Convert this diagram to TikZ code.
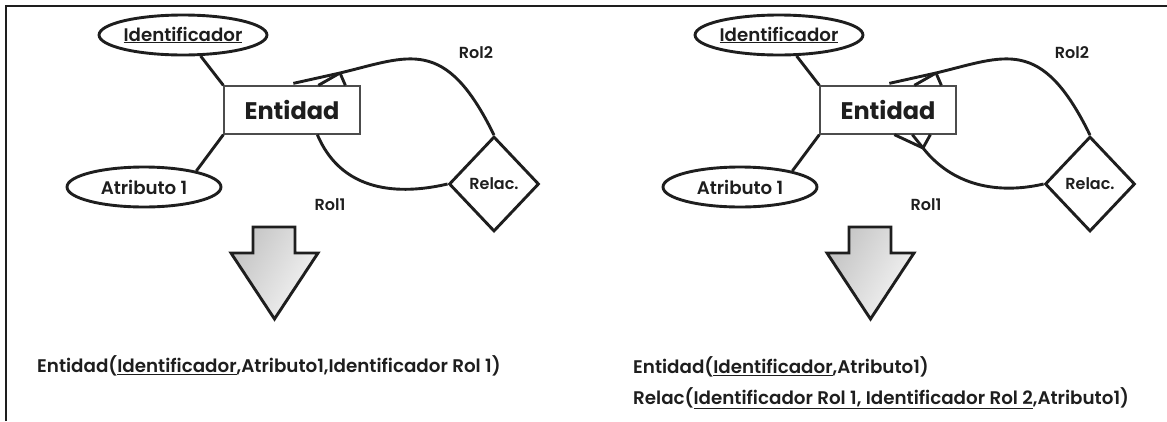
\documentclass[tikz,border=0pt]{standalone}
\usepackage{fontspec}
\setmainfont{Poppins}[BoldFont={Poppins SemiBold}]
\newfontfamily\heavyfont{Poppins}[UprightFont={* Bold}]
\usetikzlibrary{shapes.geometric}
\definecolor{ink}{HTML}{1E1E1E}
\definecolor{arrdark}{HTML}{C4C4C4}
\definecolor{arrlight}{HTML}{F6F6F6}
\tikzset{
  line/.style={line width=2.9pt, draw=ink},
  attr/.style={ellipse, draw=ink, line width=2.9pt, minimum width=154pt, minimum height=40pt, inner sep=0pt, text=ink, font=\bfseries\fontsize{18.2}{18}\selectfont},
  ent/.style={rectangle, draw=black!70, line width=1.3pt, minimum width=136pt, minimum height=48pt, inner sep=0pt, text=ink, font=\heavyfont\fontsize{24}{24}\selectfont},
  rel/.style={diamond, draw=ink, line width=2.9pt, minimum width=90pt, minimum height=95pt, inner sep=0pt, text=ink, font=\bfseries\fontsize{16}{16}\selectfont},
  lbl/.style={text=ink, inner sep=0pt, font=\bfseries\fontsize{16}{16}\selectfont},
  res/.style={anchor=west, inner sep=0pt, text=ink, font=\bfseries\fontsize{18.3}{18}\selectfont},
  bigarrow/.style={draw=ink, line width=2.9pt, line join=miter, shading=axis, left color=arrdark, right color=arrlight, shading angle=60},
}
\begin{document}
\begin{tikzpicture}[x=1pt,y=-1pt]
\useasboundingbox (0,0) rectangle (1167,421);
% frame
\draw[line width=2.6pt, draw=ink] (6,421) -- (6,6) -- (1167,6);

% ---------- left diagram ----------
\node[ent] (entA) at (292,110) {Entidad};
\node[attr] (idA) at (183,35) {\underline{Identificador}};
\node[attr] (atA) at (144,187) {Atributo 1};
\node[rel] (relA) at (494,184) {Relac.};
\node[lbl] (rol2A) at (476,53) {Rol2};
\node[lbl] (rol1A) at (330,205) {Rol1};
\draw[line] (idA.-50) -- (entA.north west);
\draw[line] (entA.south west) -- (atA.17);
\coordinate (ftA) at (340,73);
\draw[line] (ftA) -- ([shift={(70,-2)}]entA.north west);
\draw[line] (ftA) -- ([shift={(95,0)}]entA.north west);
\draw[line] (ftA) -- ([shift={(122,0)}]entA.north west);
\draw[line] (ftA) .. controls (409,56.5) and (445,35) .. (relA.north);
\draw[line] ([shift={(94,0)}]entA.south west) .. controls (344,198) and (409,193) .. (relA.west);
\draw[bigarrow] (253,227) -- (295,227) -- (295,253) -- (318,253) -- (274.5,319) -- (231,253) -- (253,253) -- cycle;
\node[res] (txtA) at (37,366) {Entidad(\underline{Identificador},Atributo1,Identificador Rol 1)};

% ---------- right diagram ----------
\begin{scope}[xshift=596pt]
\node[ent] (entB) at (292,110) {Entidad};
\node[attr] (idB) at (183,35) {\underline{Identificador}};
\node[attr] (atB) at (144,187) {Atributo 1};
\node[rel] (relB) at (494,184) {Relac.};
\node[lbl] (rol2B) at (476,53) {Rol2};
\node[lbl] (rol1B) at (330,205) {Rol1};
\draw[line] (idB.-50) -- (entB.north west);
\draw[line] (entB.south west) -- (atB.17);
\coordinate (ftB) at (340,73);
\draw[line] (ftB) -- ([shift={(70,-2)}]entB.north west);
\draw[line] (ftB) -- ([shift={(95,0)}]entB.north west);
\draw[line] (ftB) -- ([shift={(122,0)}]entB.north west);
\draw[line] (ftB) .. controls (409,56.5) and (445,35) .. (relB.north);
\coordinate (fbB) at (327,148);
\draw[line] (fbB) -- ([shift={(75,0)}]entB.south west);
\draw[line] (fbB) -- ([shift={(93,0)}]entB.south west);
\draw[line] (fbB) -- ([shift={(111,0)}]entB.south west);
\draw[line] (fbB) .. controls (360,190) and (409,193) .. (relB.west);
\draw[bigarrow] (253,227) -- (295,227) -- (295,253) -- (318,253) -- (274.5,319) -- (231,253) -- (253,253) -- cycle;
\node[res] (txtB1) at (37,367) {Entidad(\underline{Identificador},Atributo1)};
\node[res] (txtB2) at (37,398) {Relac(\underline{Identificador Rol 1, Identificador Rol 2},Atributo1)};
\end{scope}
\end{tikzpicture}
\end{document}
